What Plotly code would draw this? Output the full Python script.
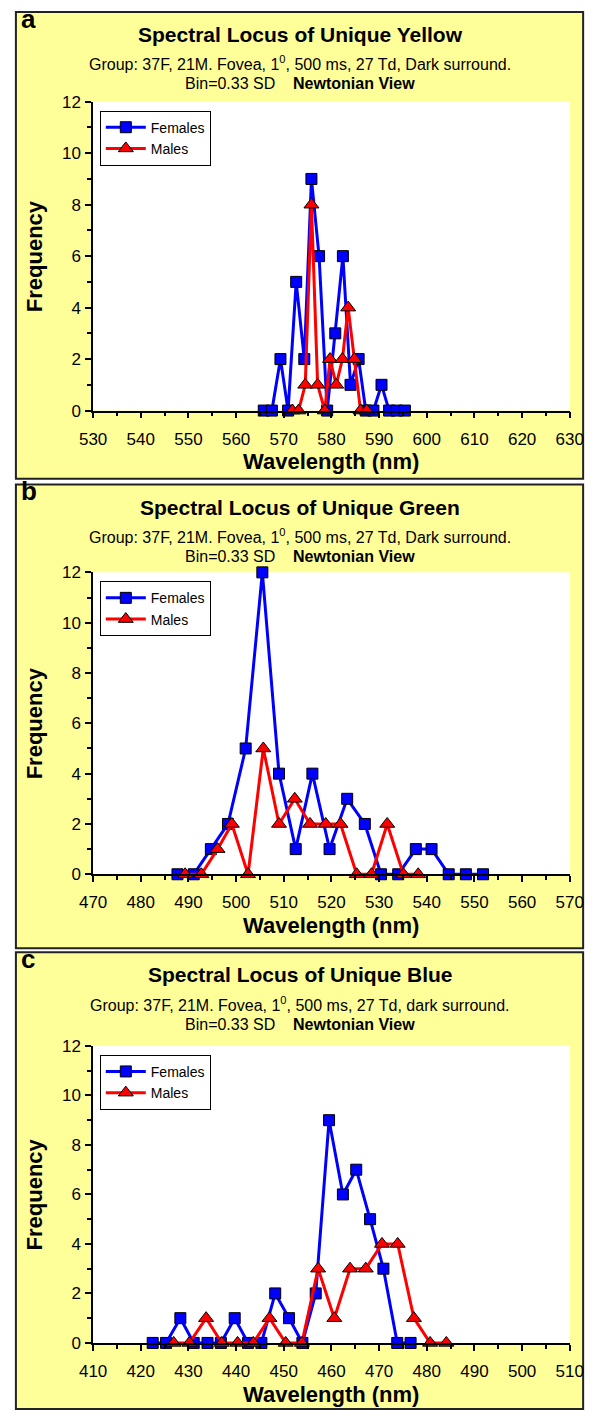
import plotly.graph_objects as go

W, H = 600, 1422

# ---- data (wavelength in nm, frequency counts) ----
yellow_f_wl = [565.8, 567.5, 569.3, 570.9, 572.6, 574.3, 575.8, 577.4, 579.1, 580.8,
               582.4, 584.0, 585.7, 587.2, 588.8, 590.5, 592.1, 593.7, 595.4]
yellow_f = [0, 0, 2, 0, 5, 2, 9, 6, 0, 3, 6, 1, 2, 0, 0, 1, 0, 0, 0]
yellow_m_wl = [571.8, 573.1, 574.5, 575.8, 577.1, 578.6, 579.7, 581.0, 582.3, 583.5,
               584.8, 586.1, 587.4]
yellow_m = [0, 0, 1, 8, 1, 0, 2, 1, 2, 4, 2, 0, 0]

green_f_wl = [487.7, 491.1, 494.7, 498.3, 502.0, 505.5, 509.0, 512.5, 516.0, 519.6,
              523.3, 527.0, 530.4, 534.0, 537.7, 541.0, 544.6, 548.2, 551.8]
green_f = [0, 0, 1, 2, 5, 12, 4, 1, 4, 1, 3, 2, 0, 0, 1, 1, 0, 0, 0]
green_m_wl = [489.3, 492.7, 496.1, 499.1, 502.5, 505.7, 509.0, 512.3, 515.5, 518.8,
              521.9, 525.3, 528.4, 531.7, 535.1, 538.2]
green_m = [0, 0, 1, 2, 0, 5, 2, 3, 2, 2, 2, 0, 0, 2, 0, 0]

blue_f_wl = [422.5, 425.3, 428.3, 431.1, 434.0, 436.8, 439.7, 442.5, 445.3, 448.2,
             451.1, 453.9, 456.7, 459.5, 462.4, 465.2, 468.1, 470.9, 473.8, 476.6]
blue_f = [0, 0, 1, 0, 0, 0, 1, 0, 0, 2, 1, 0, 2, 9, 6, 7, 5, 3, 0, 0]
blue_m_wl = [426.9, 430.2, 433.7, 437.0, 440.3, 443.6, 447.0, 450.4, 453.8, 457.2,
             460.6, 463.9, 467.2, 470.6, 473.9, 477.3, 480.7, 484.1]
blue_m = [0, 0, 1, 0, 0, 0, 1, 0, 0, 3, 1, 3, 3, 4, 4, 1, 0, 0]

titles = ["Spectral Locus of Unique Yellow", "Spectral Locus of Unique Green",
          "Spectral Locus of Unique Blue"]
letters = ["a", "b", "c"]
surround = ["Dark surround.", "Dark surround.", "dark surround."]
x_ranges = [(530, 630), (470, 570), (410, 510)]

series = [
    (yellow_f_wl, yellow_f, yellow_m_wl, yellow_m),
    (green_f_wl, green_f, green_m_wl, green_m),
    (blue_f_wl, blue_f, blue_m_wl, blue_m),
]

# ---- layout geometry (pixels) ----
box_tops = [3, 482, 956]
box_bottoms = [476, 952, 1419]
plot_tops = [94, 571, 1051]
plot_bottoms = [407, 877, 1352]
plot_left, plot_right = 83, 583

FONT = "Arial, Liberation Sans, sans-serif"
YELLOW = "#FFFF99"


def px(x):
    return x / W


def py(y):
    return 1 - y / H


fig = go.Figure()
shapes, annotations = [], []
layout = {}

for i in range(3):
    n = "" if i == 0 else str(i + 1)
    fw, fv, mw, mv = series[i]

    fig.add_trace(go.Scatter(
        x=fw, y=fv, xaxis="x" + n, yaxis="y" + n, name="Females",
        mode="lines+markers", cliponaxis=False,
        legend="legend" + n,
        line=dict(color="#0000FF", width=3),
        marker=dict(symbol="square", size=11, color="#0000FF",
                    line=dict(color="black", width=1)),
    ))
    fig.add_trace(go.Scatter(
        x=mw, y=mv, xaxis="x" + n, yaxis="y" + n, name="Males",
        mode="lines+markers", cliponaxis=False,
        legend="legend" + n,
        line=dict(color="#FF0000", width=3),
        marker=dict(symbol="triangle-up", size=13, color="#FF0000",
                    line=dict(color="black", width=1)),
    ))

    # yellow panel and white plot area
    shapes.append(dict(type="rect", xref="paper", yref="paper", layer="below",
                       x0=px(2), x1=px(597), y0=py(box_bottoms[i]), y1=py(box_tops[i]),
                       fillcolor=YELLOW, line=dict(color="#222222", width=2)))
    shapes.append(dict(type="rect", xref="paper", yref="paper", layer="below",
                       x0=px(plot_left), x1=px(plot_right),
                       y0=py(plot_bottoms[i]), y1=py(plot_tops[i]),
                       fillcolor="white", line=dict(width=0)))

    top = box_tops[i]
    annotations += [
        dict(text="<b>" + letters[i] + "</b>", x=px(5), y=py(top + 24),
             xanchor="left", yanchor="bottom", font=dict(size=26)),
        dict(text="<b>" + titles[i] + "</b>", x=0.5, y=py(top + 23),
             xanchor="center", yanchor="middle", font=dict(size=21)),
        dict(text="Group: 37F, 21M. Fovea, 1<sup>0</sup>, 500 ms, 27 Td, " + surround[i],
             x=0.5, y=py(top + 52), xanchor="center", yanchor="middle",
             font=dict(size=16)),
        dict(text="Bin=0.33 SD\u00a0\u00a0\u00a0\u00a0<b>Newtonian View</b>",
             x=0.5, y=py(top + 73), xanchor="center", yanchor="middle",
             font=dict(size=16)),
        dict(text="<b>Frequency</b>", x=px(21),
             y=py((plot_tops[i] + plot_bottoms[i]) / 2), textangle=-90,
             xanchor="center", yanchor="middle", font=dict(size=22)),
        dict(text="<b>Wavelength (nm)</b>", x=px((plot_left + plot_right) / 2),
             y=py(plot_bottoms[i] + 52), xanchor="center", yanchor="middle",
             font=dict(size=22)),
    ]

    lo, hi = x_ranges[i]
    layout["xaxis" + n] = dict(
        domain=[px(plot_left), px(plot_right)], anchor="y" + n,
        range=[lo, hi], dtick=10, tick0=lo, showgrid=False, zeroline=False,
        showline=True, linecolor="black", linewidth=1.5,
        ticks="outside", ticklen=6, tickcolor="black", tickwidth=1.5,
        ticklabelstandoff=6,
        minor=dict(dtick=5, ticks="outside", ticklen=4, tickcolor="black", showgrid=False),
        tickfont=dict(size=17, color="black"),
    )
    layout["yaxis" + n] = dict(
        domain=[py(plot_bottoms[i]), py(plot_tops[i])], anchor="x" + n,
        range=[0, 12], dtick=2, showgrid=False, zeroline=False,
        showline=True, linecolor="black", linewidth=1.5,
        ticks="outside", ticklen=6, tickcolor="black", tickwidth=1.5,
        ticklabelstandoff=1,
        minor=dict(dtick=1, ticks="outside", ticklen=4, tickcolor="black", showgrid=False),
        tickfont=dict(size=17, color="black"),
    )
    layout["legend" + n] = dict(
        x=px(90), y=py(plot_tops[i] + 9), xanchor="left", yanchor="top",
        bgcolor="white", bordercolor="black", borderwidth=1,
        font=dict(size=14, color="black"), itemwidth=40, tracegroupgap=0,
        traceorder="normal",
    )

fig.update_layout(
    width=W, height=H,
    margin=dict(l=0, r=0, t=0, b=0),
    paper_bgcolor="white", plot_bgcolor="white",
    font=dict(family=FONT, color="black"),
    shapes=shapes, annotations=annotations,
    **layout,
)
for a in fig.layout.annotations:
    a.update(xref="paper", yref="paper", showarrow=False)

# drop the default page margin so the figure sits at the window's corner
fig.write_html("out.html", config={"displayModeBar": False},
               post_script="document.body.style.margin='0';")
